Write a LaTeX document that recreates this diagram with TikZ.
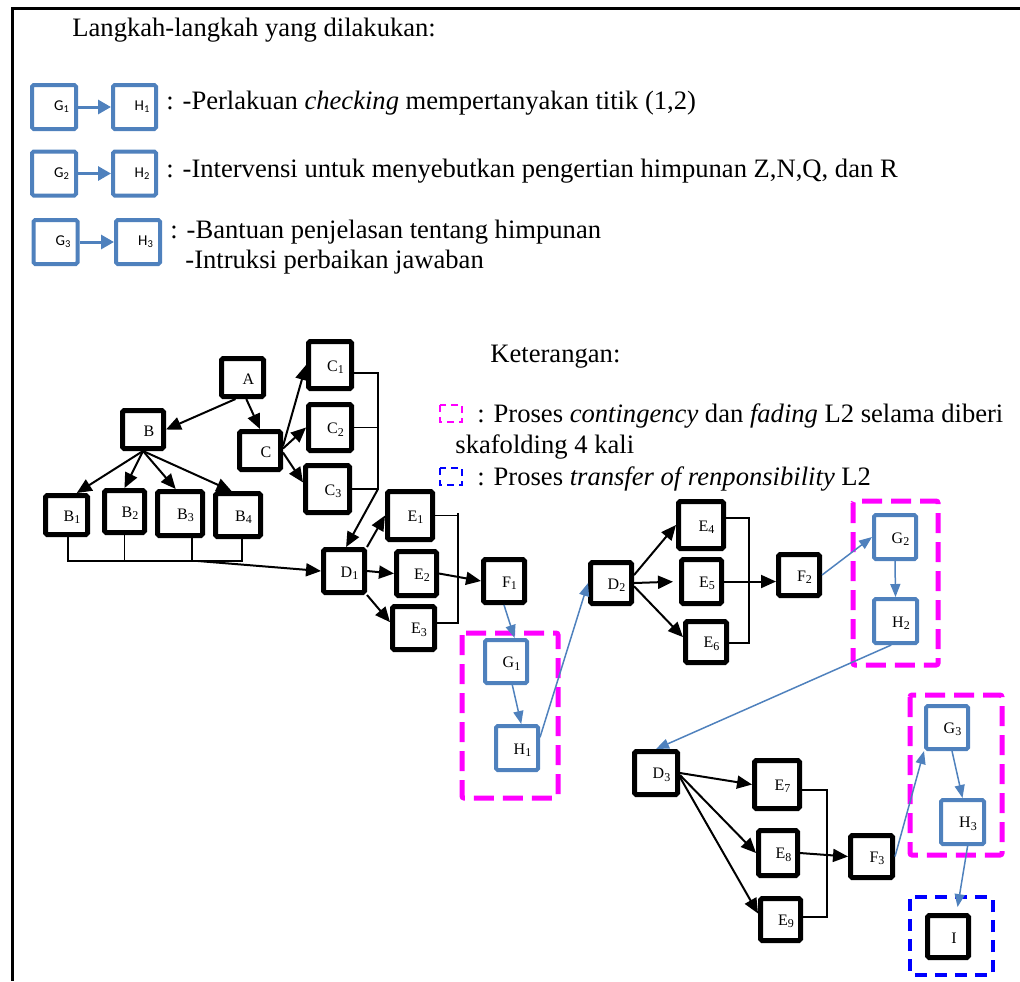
\documentclass[tikz,border=0pt]{standalone}
\usepackage{fontspec}
\setmainfont{Liberation Serif}
\newfontfamily\boxfont{Carlito}
\usetikzlibrary{arrows.meta,calc}
\definecolor{stepblue}{RGB}{79,129,189}
\definecolor{fademag}{RGB}{255,0,255}
\definecolor{tfblue}{RGB}{0,0,255}
\newcommand{\lsub}[1]{\textsubscript{#1}}

\begin{document}
\begin{tikzpicture}[x=0.5pt,y=-0.5pt,
  wh/.style 2 args={minimum width={(#1-5)*0.5pt}, minimum height={(#2-5)*0.5pt}},
  whb/.style 2 args={minimum width={(#1-4)*0.5pt}, minimum height={(#2-4)*0.5pt}},
  gbox/.style={draw=black, line width=2.5pt, rounded corners=0.8pt, inner sep=0pt, fill=white,
    label={[font=\fontsize{8}{9}\selectfont, xshift=3pt, yshift=-1pt]center:#1}},
  bbox/.style={gbox=#1, draw=stepblue, line width=2pt},
  lbox/.style={draw=stepblue, line width=2pt, rounded corners=0.8pt, inner sep=0pt, fill=white,
    label={[font=\boxfont\fontsize{7.5}{9}\selectfont, xshift=4pt]center:#1}},
  lar/.style={draw=stepblue, line width=1.5pt, -{Triangle[length=6.5pt,width=7pt]}},
  blk/.style={line width=1pt, -{Triangle[length=7.5pt,width=6.5pt]}},
  blu/.style={draw=stepblue, line width=0.75pt, -{Triangle[length=6.5pt,width=5pt]}},
  brk/.style={line width=0.75pt},
  txt/.style={anchor=base west, inner sep=0pt, font=\fontsize{13.3}{16}\selectfont},
  magbox/.style={draw=fademag, line width=2.5pt, rounded corners=1pt, dash pattern=on 10pt off 4.5pt},
  tfbox/.style={draw=tfblue, line width=2pt, rounded corners=1pt, dash pattern=on 6pt off 4pt},
  magkey/.style={draw=fademag, line width=1pt, dash pattern=on 3.5pt off 2.5pt},
  tfkey/.style={draw=tfblue, line width=1pt, dash pattern=on 3.5pt off 2.5pt}]

\useasboundingbox (0,0) rectangle (1020,981);

% frame
\draw[line width=1.5pt] (1020,8) -- (12,8) -- (12,981);

% list of steps
\node[txt] (title) at (72,36) {Langkah-langkah yang dilakukan:};

\node[lbox=G\lsub{1}, whb={48}{48}] (g1k) at (54,107) {};
\node[lbox=H\lsub{1}, whb={47}{48}] (h1k) at (134.5,107) {};
\draw[lar] (g1k) -- (h1k);
\node[txt] (r1) at (166,109) {: -Perlakuan \textit{checking} mempertanyakan titik (1,2)};

\node[lbox=G\lsub{2}, whb={48}{48}] (g2k) at (54,173.5) {};
\node[lbox=H\lsub{2}, whb={47}{48}] (h2k) at (134.5,173.5) {};
\draw[lar] (g2k) -- (h2k);
\node[txt] (r2) at (166,177) {: -Intervensi untuk menyebutkan pengertian himpunan Z,N,Q, dan R};

\node[lbox=G\lsub{3}, whb={48}{48}] (g3k) at (55.5,242) {};
\node[lbox=H\lsub{3}, whb={48}{48}] (h3k) at (138,242) {};
\draw[lar] (g3k) -- (h3k);
\node[txt] (r3a) at (170,238) {: -Bantuan penjelasan tentang himpunan};
\node[txt] (r3b) at (185,268) {-Intruksi perbaikan jawaban};

% key
\node[txt] (ket) at (490,362) {Keterangan:};
\draw[magkey] (440,405) rectangle (462,422);
\node[txt] (k1) at (477,422) {: Proses \textit{contingency} dan \textit{fading} L2 selama diberi};
\node[txt] (k1b) at (455,453) {skafolding 4 kali};
\draw[tfkey] (440,468) rectangle (462,485);
\node[txt] (k2) at (477,485) {: Proses \textit{transfer of renponsibility} L2};

% dashed groups
\draw[magbox] (462,633) rectangle (558,798);
\draw[magbox] (853,501) rectangle (938,665);
\draw[magbox] (910,695) rectangle (1002,855);
\draw[tfbox] (910,897) rectangle (993,975);

% nodes
\node[gbox=A, wh={47}{43}] (A) at (242.5,377.5) {};
\node[gbox=B, wh={46}{43}] (B) at (143,429.5) {};
\node[gbox=C, wh={46}{43}] (C) at (260,450.5) {};
\node[gbox=C\lsub{1}, wh={48}{52}] (C1) at (330,365) {};
\node[gbox=C\lsub{2}, wh={48}{51}] (C2) at (330,427.5) {};
\node[gbox=C\lsub{3}, wh={49}{52}] (C3) at (327.5,489) {};
\node[gbox=B\lsub{1}, wh={47}{44}] (B1) at (66.5,515) {};
\node[gbox=B\lsub{2}, wh={45}{47}] (B2) at (124.5,511.5) {};
\node[gbox=B\lsub{3}, wh={50}{49}] (B3) at (180,513.5) {};
\node[gbox=B\lsub{4}, wh={50}{48}] (B4) at (238,515) {};
\node[gbox=D\lsub{1}, wh={46}{48}] (D1) at (344,571) {};
\node[gbox=E\lsub{1}, wh={50}{53}] (E1) at (410,515.5) {};
\node[gbox=E\lsub{2}, wh={45}{49}] (E2) at (416.5,573.5) {};
\node[gbox=E\lsub{3}, wh={47}{48}] (E3) at (413.5,628) {};
\node[gbox=F\lsub{1}, wh={46}{48}] (F1) at (504,581) {};
\node[bbox=G\lsub{1}, whb={46}{47}] (G1) at (506,661.5) {};
\node[bbox=H\lsub{1}, whb={46}{48}] (H1) at (517,748) {};
\node[gbox=D\lsub{2}, wh={46}{46}] (D2) at (611,583) {};
\node[gbox=E\lsub{4}, wh={50}{52}] (E4) at (701,525) {};
\node[gbox=E\lsub{5}, wh={45}{49}] (E5) at (701.5,581.5) {};
\node[gbox=E\lsub{6}, wh={46}{46}] (E6) at (706,642) {};
\node[gbox=F\lsub{2}, wh={46}{46}] (F2) at (799,575) {};
\node[bbox=G\lsub{2}, whb={46}{48}] (G2) at (895,537) {};
\node[bbox=H\lsub{2}, whb={47}{48}] (H2) at (895.5,621) {};
\node[gbox=D\lsub{3}, wh={48}{48}] (D3) at (656,773) {};
\node[gbox=E\lsub{7}, wh={50}{53}] (E7) at (777,784.5) {};
\node[gbox=E\lsub{8}, wh={44}{50}] (E8) at (778,853) {};
\node[gbox=E\lsub{9}, wh={45}{47}] (E9) at (780.5,919.5) {};
\node[gbox=F\lsub{3}, wh={47}{47}] (F3) at (871.5,856.5) {};
\node[bbox=G\lsub{3}, whb={46}{47}] (G3) at (947,727.5) {};
\node[bbox=H\lsub{3}, whb={47}{48}] (H3) at (962.5,822) {};
\node[gbox=I, wh={46}{47}] (I) at (948,936.5) {};

% A, B, C
\draw[blk] (A.252) -- (B.east);
\draw[blk] (A.280) -- (C.north);
\draw[blk] (C.11) -- (C1.west);
\draw[blk] (C.5) -- (C2.west);
\draw[blk] (C.355) -- (C3.165);
\draw[blk] (B.south) -- (B1.65);
\draw[blk] (B.south) -- (B2.north);
\draw[blk] (B.south) -- (B3.100);
\draw[blk] (B.south) -- (B4.105);

% B bracket
\coordinate (bl) at (68,561);
\coordinate (br) at (242,561);
\coordinate (b3x) at (192,561);
\coordinate (bb) at (198,561);
\draw[brk] (bl |- B1.south) -- (bl) -- (br) -- (br |- B4.south);
\draw[brk] (B2.south) -- (B2.south |- bl);
\draw[brk] (b3x |- B3.south) -- (b3x);
\draw[blk] (bb) -- (D1.west);

% C bracket
\coordinate (cb1) at (378,373);
\coordinate (cb3) at (378,489);
\draw[brk] (C1.east |- cb1) -- (cb1) -- (cb3) -- (C3.east |- cb3);
\draw[brk] (C2.east) -- (C2.east -| cb1);
\draw[blk] (cb3) -- (D1.85);

% first cycle
\draw[blk] (D1.north east) -- (E1.west);
\draw[blk] (D1.east) -- (E2.west);
\draw[blk] (D1.south east) -- (E3.166);
\coordinate (eb1) at (458,513);
\coordinate (eb3) at (458,623);
\draw[brk] (E1.east) -- (E1.east -| eb1);
\draw[brk] (eb1) -- (eb3) -- (eb3 -| E3.east);
\draw[blk] (E2.east) -- (F1.west);
\draw[blu] (F1.south) -- (G1.70);
\draw[blu] (G1.285) -- (H1.80);
\draw[blu] (H1.25) -- (D2.west);

% second cycle
\draw[blk] (D2.19) -- (E4.west);
\draw[blk, shorten >=3pt] (D2.east) -- (E5.west);
\draw[blk] (D2.352) -- (E6.168);
\coordinate (fb1) at (749,518);
\coordinate (fb3) at (749,643);
\draw[brk] (E4.east |- fb1) -- (fb1) -- (fb3) -- (E6.east |- fb3);
\draw[blk] (E5.east) -- (E5.east -| F2.west);
\draw[blu] (F2.east) -- (G2.west);
\draw[blu] (G2.south) -- (H2.north);
\draw[blu] (H2.260) -- (D3.north);

% third cycle
\draw[blk] (D3.east) -- (E7.west);
\draw[blk] (D3.355) -- (E8.west);
\draw[blk] (D3.350) -- (E9.165);
\coordinate (hb1) at (827,790);
\coordinate (hb3) at (827,917);
\draw[brk] (E7.east |- hb1) -- (hb1) -- (hb3) -- (E9.east |- hb3);
\draw[blk] (E8.east) -- (F3.west);
\draw[blu] (F3.east) -- (G3.south west);
\draw[blu] (G3.282) -- (H3.north);
\draw[blu, shorten >=3pt] (H3.282) -- (I.70);

\end{tikzpicture}
\end{document}
